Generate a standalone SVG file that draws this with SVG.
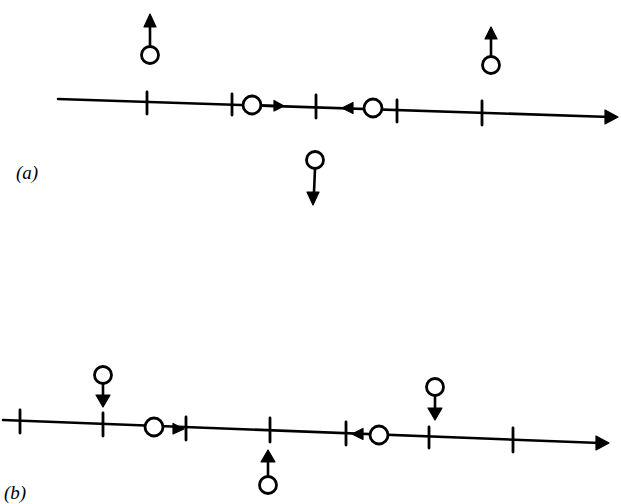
<svg xmlns="http://www.w3.org/2000/svg" width="621" height="504" viewBox="0 0 621 504">
<style>
.ln{stroke:#000;stroke-width:2.6;fill:none;stroke-linecap:round}
.tk{stroke:#000;stroke-width:2.8;stroke-linecap:round}
.c{fill:#fff;stroke:#000;stroke-width:2.8}
.hd{fill:#000;stroke:#000;stroke-width:1.2;stroke-linejoin:round}
.lb{font-family:"Liberation Serif",serif;font-style:italic;font-size:19px;fill:#000}
</style>
<g id="connectors">
<line class="ln" x1="58" y1="99" x2="610" y2="117"/>
<path class="hd" d="M618,117 L605,110 L605,124 Z"/>
<line class="ln" x1="3" y1="420" x2="600" y2="443"/>
<path class="hd" d="M609,443 L596,436 L596,450 Z"/>
</g>
<g id="a-axis-ticks">
<line class="tk" x1="147" y1="92" x2="147" y2="114"/>
<line class="tk" x1="232" y1="94" x2="232" y2="115"/>
<line class="tk" x1="316" y1="95" x2="316" y2="118"/>
<line class="tk" x1="397" y1="100" x2="397" y2="122"/>
<line class="tk" x1="482" y1="101" x2="482" y2="125"/>
</g>
<g id="a-p1"><line class="ln" x1="150" y1="46" x2="150" y2="26"/><path class="hd" d="M150,14 L144,27 L156,27 Z"/><circle class="c" cx="150" cy="55" r="8.5"/></g>
<g id="a-p2"><line class="ln" x1="491" y1="56" x2="491" y2="38"/><path class="hd" d="M491,27 L485,39 L497,39 Z"/><circle class="c" cx="491" cy="65" r="8.5"/></g>
<g id="a-p3"><line class="ln" x1="315" y1="169" x2="314" y2="192"/><path class="hd" d="M313,205 L307,192 L319,192 Z"/><circle class="c" cx="315" cy="160" r="8.5"/></g>
<g id="a-p4"><circle class="c" cx="252" cy="105" r="9"/><line class="ln" x1="261" y1="105.5" x2="274" y2="106"/><path class="hd" d="M284,106 L274,100.5 L274,111 Z"/></g>
<g id="a-p5"><circle class="c" cx="373" cy="108" r="9"/><path class="hd" d="M342,108 L353,102.5 L353,113.5 Z"/></g>
<text class="lb" x="16" y="179">(a)</text>
<g id="b-axis-ticks">
<line class="tk" x1="20" y1="410" x2="20" y2="433"/>
<line class="tk" x1="103" y1="413" x2="103" y2="436"/>
<line class="tk" x1="186" y1="417" x2="186" y2="440"/>
<line class="tk" x1="270" y1="418" x2="270" y2="442"/>
<line class="tk" x1="346" y1="422" x2="346" y2="445"/>
<line class="tk" x1="429" y1="427" x2="429" y2="448"/>
<line class="tk" x1="513" y1="428" x2="513" y2="452"/>
</g>
<g id="b-p1"><line class="ln" x1="103" y1="384" x2="103" y2="396"/><path class="hd" d="M103,407 L96,395 L110,395 Z"/><circle class="c" cx="103" cy="375" r="8.5"/></g>
<g id="b-p2"><line class="ln" x1="435" y1="396" x2="435" y2="409"/><path class="hd" d="M435,420 L428,408 L442,408 Z"/><circle class="c" cx="435" cy="387" r="8.5"/></g>
<g id="b-p3"><line class="ln" x1="268" y1="476" x2="268" y2="462"/><path class="hd" d="M268,450 L261,462 L275,462 Z"/><circle class="c" cx="268" cy="485" r="8.5"/></g>
<g id="b-p4"><circle class="c" cx="154" cy="427" r="9"/><path class="hd" d="M184,429 L173,423.5 L173,434 Z"/></g>
<g id="b-p5"><circle class="c" cx="379" cy="435" r="9"/><path class="hd" d="M352,434 L363,428.5 L363,439.5 Z"/></g>
<text class="lb" x="4" y="499">(b)</text>
</svg>
